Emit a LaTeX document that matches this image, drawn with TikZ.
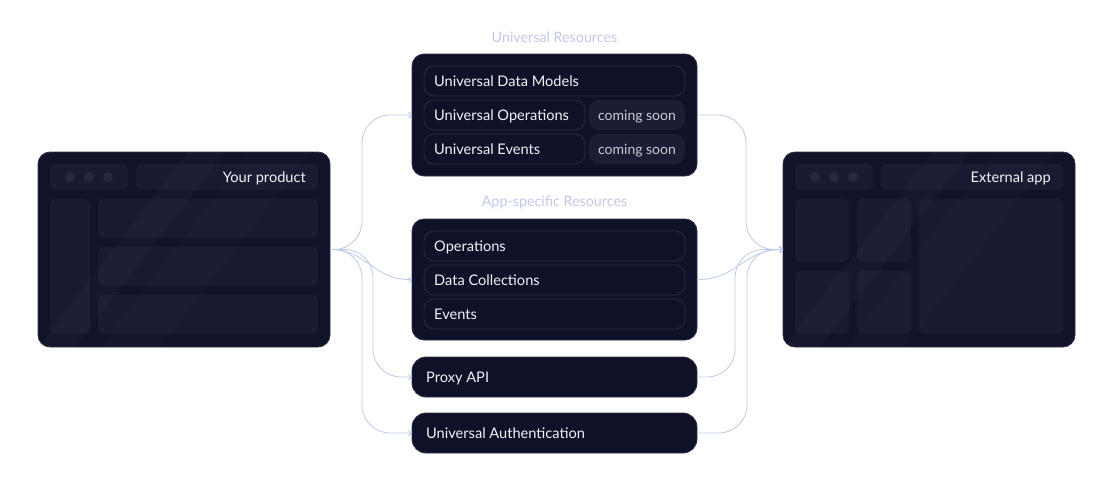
\documentclass[tikz,border=0pt]{standalone}
\usepackage{fontspec}
\setmainfont{Lato}
\usetikzlibrary{arrows.meta}
\definecolor{boxbg}{HTML}{0E1128}
\definecolor{boxedge}{HTML}{2E3249}
\definecolor{pilledge}{HTML}{2A2E46}
\definecolor{soonbg}{HTML}{1A1D34}
\definecolor{winbg}{HTML}{111428}
\definecolor{panelbg}{HTML}{181B31}
\definecolor{dotc}{HTML}{25293F}
\definecolor{conncol}{HTML}{BCCAEA}
\definecolor{titlecol}{HTML}{C2C8E6}
\definecolor{txt}{HTML}{F2F3F8}
\definecolor{softtxt}{HTML}{C9CBD8}
\tikzset{
  outerbox/.style={draw=boxedge, line width=0.8pt, fill=boxbg, rounded corners=12, inner sep=0, outer sep=0},
  winbox/.style={draw=boxedge, line width=0.8pt, fill=winbg, rounded corners=12, inner sep=0, outer sep=0},
  pill/.style={draw=pilledge, line width=0.7pt, fill=boxbg, rounded corners=10, inner sep=0, outer sep=0},
  soon/.style={fill=soonbg, rounded corners=10, inner sep=0, outer sep=0, text=softtxt, font=\fontsize{14}{16}\selectfont, text height=11.5, text depth=1},
  panel/.style={fill=panelbg, rounded corners=5, inner sep=0, outer sep=0},
  dot/.style={circle, fill=dotc, minimum size=10, inner sep=0},
  lbl/.style={text=txt, font=\fontsize{14.6}{17}\selectfont, inner sep=0, anchor=west, text height=12, text depth=1},
  grouptitle/.style={text=titlecol, font=\fontsize{14.3}{16}\selectfont, inner sep=0},
  conn/.style={draw=conncol, line width=0.8pt, rounded corners=28, -{Straight Barb[length=3pt,width=6pt]}},
}
\begin{document}
\begin{tikzpicture}[x=1pt,y=-1pt]
\useasboundingbox (0,0) rectangle (1110,480);
\fill[white] (0,0) rectangle (1110,480);

% ---------- left window ----------
\node[winbox, minimum width=292, minimum height=195] (lw) at (184,249.5) {};
\node[panel, minimum width=78, minimum height=26, anchor=north west] (lbar) at (50,164) {};
\node[dot] (ld1) at (70,177) {};
\node[dot] (ld2) at (89,177) {};
\node[dot] (ld3) at (108,177) {};
\node[panel, minimum width=182, minimum height=26, anchor=north west] (ltitle) at (136,164) {};
\node[lbl, anchor=east] (ltext) at ([xshift=-12]ltitle.east) {Your product};
\node[panel, minimum width=40, minimum height=135, anchor=north west] (lside) at (50,199) {};
\node[panel, minimum width=220, minimum height=39, anchor=north west] (lr1) at (98,199) {};
\node[panel, minimum width=220, minimum height=39, anchor=north west] (lr2) at (98,247) {};
\node[panel, minimum width=220, minimum height=39, anchor=north west] (lr3) at (98,295) {};
\begin{scope}
\clip[rounded corners=12] (38,152) rectangle (330,347);
\fill[white, opacity=0.018] (38,347) -- (75,347) -- (225,152) -- (188,152) -- cycle;
\fill[white, opacity=0.012] (100,347) -- (160,347) -- (310,152) -- (250,152) -- cycle;
\end{scope}

% ---------- right window ----------
\node[winbox, minimum width=292, minimum height=195] (rw) at (929,249.5) {};
\node[panel, minimum width=78, minimum height=26, anchor=north west] (rbar) at (795,164) {};
\node[dot] (rd1) at (815,177) {};
\node[dot] (rd2) at (834,177) {};
\node[dot] (rd3) at (853,177) {};
\node[panel, minimum width=182, minimum height=26, anchor=north west] (rtitle) at (881,164) {};
\node[lbl, anchor=east] (rtext) at ([xshift=-12]rtitle.east) {External app};
\node[panel, minimum width=54, minimum height=63, anchor=north west] (rg1) at (795,199) {};
\node[panel, minimum width=54, minimum height=63, anchor=north west] (rg2) at (857,199) {};
\node[panel, minimum width=54, minimum height=63, anchor=north west] (rg3) at (795,271) {};
\node[panel, minimum width=54, minimum height=63, anchor=north west] (rg4) at (857,271) {};
\node[panel, minimum width=144, minimum height=135, anchor=north west] (rbig) at (919,199) {};
\begin{scope}
\clip[rounded corners=12] (783,152) rectangle (1075,347);
\fill[white, opacity=0.018] (783,347) -- (820,347) -- (970,152) -- (933,152) -- cycle;
\fill[white, opacity=0.012] (845,347) -- (905,347) -- (1055,152) -- (995,152) -- cycle;
\end{scope}

% ---------- Universal Resources ----------
\node[grouptitle] (urt) at (554.5,37) {Universal Resources};
\node[outerbox, minimum width=285, minimum height=122, anchor=north west] (ur) at (412,54) {};
\node[pill, minimum width=261, minimum height=30, anchor=north west] (udm) at (424,66) {};
\node[lbl] (udmt) at ([xshift=10]udm.west) {Universal Data Models};
\node[pill, minimum width=161, minimum height=30, anchor=north west] (uop) at (424,100) {};
\node[lbl] (uopt) at ([xshift=10]uop.west) {Universal Operations};
\node[soon, minimum width=96, minimum height=30, anchor=north west] (s1) at (589,100) {coming soon};
\node[pill, minimum width=161, minimum height=30, anchor=north west] (uev) at (424,134) {};
\node[lbl] (uevt) at ([xshift=10]uev.west) {Universal Events};
\node[soon, minimum width=96, minimum height=30, anchor=north west] (s2) at (589,134) {coming soon};

% ---------- App-specific Resources ----------
\node[grouptitle] (ast) at (554.5,202) {App-specific Resources};
\node[outerbox, minimum width=285, minimum height=121, anchor=north west] (as) at (412,219) {};
\node[pill, minimum width=261, minimum height=30, anchor=north west] (aop) at (424,231) {};
\node[lbl] (aopt) at ([xshift=10]aop.west) {Operations};
\node[pill, minimum width=261, minimum height=30, anchor=north west] (adc) at (424,265) {};
\node[lbl] (adct) at ([xshift=10]adc.west) {Data Collections};
\node[pill, minimum width=261, minimum height=30, anchor=north west] (aev) at (424,299) {};
\node[lbl] (aevt) at ([xshift=10]aev.west) {Events};

% ---------- Proxy API / Auth ----------
\node[outerbox, rounded corners=14, minimum width=285, minimum height=40, anchor=north west] (px) at (412,357) {};
\node[lbl] (pxt) at ([xshift=14]px.west) {Proxy API};
\node[outerbox, rounded corners=14, minimum width=285, minimum height=40, anchor=north west] (au) at (412,413) {};
\node[lbl] (aut) at ([xshift=14]au.west) {Universal Authentication};

% ---------- connector bend points ----------
\coordinate (l1) at (362,115);
\coordinate (l3) at (373,377);
\coordinate (l4) at (362,433);
\coordinate (r1) at (746,249.5);
\coordinate (r3) at (735,249.5);
\coordinate (r4) at (747,249.5);

% ---------- connectors: left ----------
\draw[conn] (lw.east) -| (l1) -- (ur.west |- l1);
\draw[conn] (lw.east) .. controls (368,249.5) and (372,280) .. (as.west);
\draw[conn] (lw.east) -| (l3) -- (px.west);
\draw[conn] (lw.east) -| (l4) -- (au.west);

% ---------- connectors: right ----------
\draw[conn] (ur.east |- l1) -| (r1) -- (rw.west);
\draw[conn] (as.east) .. controls (738,280) and (742,249.5) .. (rw.west);
\draw[conn] (px.east) -| (r3) -- (rw.west);
\draw[conn] (au.east) -| (r4) -- (rw.west);
\end{tikzpicture}
\end{document}
